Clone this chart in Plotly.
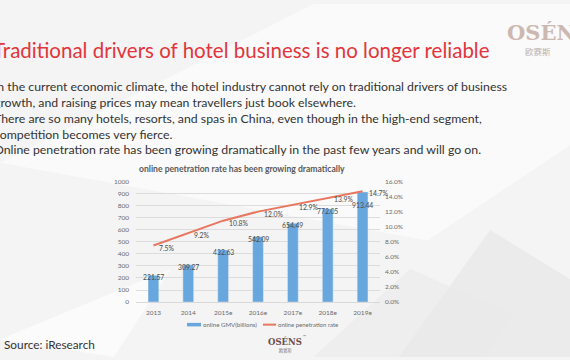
import plotly.graph_objects as go

years = ["2013", "2014", "2015e", "2016e", "2017e", "2018e", "2019e"]
gmv = [221.57, 309.27, 432.63, 542.09, 654.49, 772.05, 913.44]
rate = [7.5, 9.2, 10.8, 12.0, 12.9, 13.9, 14.7]
gmv_labels = ["221.57", "309.27", "432.63", "542.09", "654.49", "772.05", "913.44"]
rate_labels = ["7.5%", "9.2%", "10.8%", "12.0%", "12.9%", "13.9%", "14.7%"]
left_ticks = list(range(0, 1001, 100))
right_ticks = [0, 2, 4, 6, 8, 10, 12, 14, 16]
right_tick_text = ["0.0%", "2.0%", "4.0%", "6.0%", "8.0%", "10.0%", "12.0%", "14.0%", "16.0%"]
series_names = ["online GMV(billions)", "online penetration rate"]

title = "Traditional drivers of hotel business is no longer reliable"
body_lines = [
    "In the current economic climate, the hotel industry cannot rely on traditional drivers of business",
    "growth, and raising prices may mean travellers just book elsewhere.",
    "There are so many hotels, resorts, and spas in China, even though in the high-end segment,",
    "competition becomes very fierce.",
    "Online penetration rate has been growing dramatically in the past few years and will go on.",
]
chart_title = "online penetration rate has been growing dramatically"

W, H = 570, 360
FONT = "Lato, 'Open Sans', sans-serif"
BLUE = "#68a7dd"
RED = "#e9765f"
TICK = "#6b6b6b"
LABEL = "#4a4a4a"

fig = go.Figure()
fig.add_trace(go.Bar(x=years, y=gmv, name=series_names[0], marker_color=BLUE,
                     width=0.31, yaxis="y", showlegend=False, hoverinfo="skip"))
fig.add_trace(go.Scatter(x=years, y=rate, mode="lines", name=series_names[1],
                         line=dict(color=RED, width=2), yaxis="y2", showlegend=False,
                         hoverinfo="skip"))

shapes = [
    dict(type="path", xref="paper", yref="paper", layer="below",
         path="M 0 0.55 L 0.75 0.33 L 1 0.6 L 1 1 L 0.55 1 Z",
         fillcolor="rgba(255,255,255,0.55)", line=dict(width=0)),
    dict(type="path", xref="paper", yref="paper", layer="below",
         path="M 0.7 0 L 0.86 0.36 L 1 0.22 L 1 0 Z",
         fillcolor="rgba(228,228,228,0.6)", line=dict(width=0)),
    dict(type="path", xref="paper", yref="paper", layer="below",
         path="M 0.55 0 L 0.72 0.25 L 0.9 0.12 L 0.85 0 Z",
         fillcolor="rgba(234,234,234,0.6)", line=dict(width=0)),
    dict(type="path", xref="paper", yref="paper", layer="below",
         path="M 0 0.05 L 0.3 0.25 L 0.2 0 Z",
         fillcolor="rgba(255,255,255,0.6)", line=dict(width=0)),
    # legend keys
    dict(type="rect", xref="paper", yref="paper", x0=187 / W, x1=201 / W,
         y0=1 - 328.8 / H, y1=1 - 325.2 / H, fillcolor=BLUE, line=dict(width=0)),
    dict(type="line", xref="paper", yref="paper", x0=263 / W, x1=276 / W,
         y0=1 - 327 / H, y1=1 - 327 / H, line=dict(color=RED, width=2)),
]

ann = []
# data labels through the axes (category serial index on x)
bar_shift = [-2, -2, -2, -2, -2, -2, -13]
for i, (yv, t, s) in enumerate(zip(gmv, gmv_labels, bar_shift)):
    ann.append(dict(text=t, x=i, y=yv, xref="x", yref="y", showarrow=False, xanchor="center",
                    yanchor="middle", yshift=s, font=dict(size=6.8, color=LABEL, family=FONT)))
for i, (yv, t) in enumerate(zip(rate, rate_labels)):
    ann.append(dict(text=t, x=i, y=yv, xref="x", yref="y2", showarrow=False, xanchor="left",
                    yanchor="middle", xshift=4, yshift=-2,
                    font=dict(size=6.8, color=LABEL, family=FONT)))

ann.append(dict(text=title, x=-9 / W, y=1 - 47 / H, xref="paper", yref="paper", xanchor="left",
                yanchor="middle", showarrow=False,
                font=dict(size=20.5, color="#e0363c", family=FONT)))
for i, line in enumerate(body_lines):
    ann.append(dict(text=line, x=-8 / W, y=1 - (84 + i * 16.2) / H, xref="paper", yref="paper",
                    xanchor="left", yanchor="middle", showarrow=False,
                    font=dict(size=12.3, color="#333", family=FONT)))
ann.append(dict(text="<b>" + chart_title + "</b>", x=242 / W, y=1 - 168 / H, xref="paper",
                yref="paper", xanchor="center", yanchor="middle", showarrow=False,
                font=dict(size=8.6, color="#595959", family=FONT)))
ann.append(dict(text=series_names[0], x=201 / W, y=1 - 327 / H, xref="paper", yref="paper",
                xanchor="left", yanchor="middle", showarrow=False,
                font=dict(size=6.1, color=TICK, family=FONT)))
ann.append(dict(text=series_names[1], x=276 / W, y=1 - 327 / H, xref="paper", yref="paper",
                xanchor="left", yanchor="middle", showarrow=False,
                font=dict(size=6.0, color=TICK, family=FONT)))
ann.append(dict(text="Source: iResearch", x=2 / W, y=1 - 347 / H, xref="paper", yref="paper",
                xanchor="left", yanchor="middle", showarrow=False,
                font=dict(size=11.8, color="#333", family=FONT)))
ann.append(dict(text="<b>OSÉN</b>", x=505 / W, y=1 - 29 / H, xref="paper", yref="paper",
                xanchor="left", yanchor="middle", showarrow=False,
                font=dict(size=21, color="#cdb8b1", family="'DejaVu Serif', serif")))
ann.append(dict(text="欧赛斯", x=538 / W, y=1 - 48 / H, xref="paper", yref="paper",
                xanchor="center", yanchor="middle", showarrow=False,
                font=dict(size=8.5, color="#b8b0ad", family="'Noto Sans CJK SC'")))
ann.append(dict(text="<b>OSÉNS</b>", x=285 / W, y=1 - 344 / H, xref="paper", yref="paper",
                xanchor="center", yanchor="middle", showarrow=False,
                font=dict(size=8.5, color="#6e4f4c", family="'DejaVu Serif', serif")))
ann.append(dict(text="™", x=304 / W, y=1 - 339 / H, xref="paper", yref="paper",
                xanchor="center", yanchor="middle", showarrow=False,
                font=dict(size=4, color="#6e4f4c", family=FONT)))
ann.append(dict(text="欧赛斯", x=285 / W, y=1 - 353 / H, xref="paper", yref="paper",
                xanchor="center", yanchor="middle", showarrow=False,
                font=dict(size=4.2, color="#8a7a77", family="'Noto Sans CJK SC'")))

fig.update_layout(
    width=W, height=H,
    margin=dict(l=0, r=0, t=0, b=0, pad=0),
    paper_bgcolor="#f4f4f4", plot_bgcolor="rgba(0,0,0,0)",
    font=dict(family=FONT, color=TICK, size=6.5),
    shapes=shapes, annotations=ann,
    showlegend=False,
    xaxis=dict(type="category", categoryorder="array", categoryarray=years,
               range=[-0.5, len(years) - 0.5],
               domain=[136 / W, 380 / W], showgrid=False, showline=True, linecolor="#d9d9d9",
               linewidth=1, tickfont=dict(size=6.5, color=TICK), ticks="", ticklen=0,
               ticklabelstandoff=4, fixedrange=True),
    yaxis=dict(domain=[1 - 304 / H, 1 - 181 / H], range=[0, 1000], tickvals=left_ticks,
               showgrid=True, gridcolor="#dcdcdc", gridwidth=1, zeroline=False, showline=False,
               ticks="", tickfont=dict(size=6.5, color=TICK), ticklabelstandoff=6),
    yaxis2=dict(range=[0, 16], tickvals=right_ticks, ticktext=right_tick_text, overlaying="y",
                side="right", showgrid=False, zeroline=False, showline=False, ticks="",
                tickfont=dict(size=6.5, color=TICK), ticklabelstandoff=4),
)

fig.write_html("out.html", config={"displayModeBar": False, "staticPlot": True},
               post_script="document.body.style.margin='0';")
